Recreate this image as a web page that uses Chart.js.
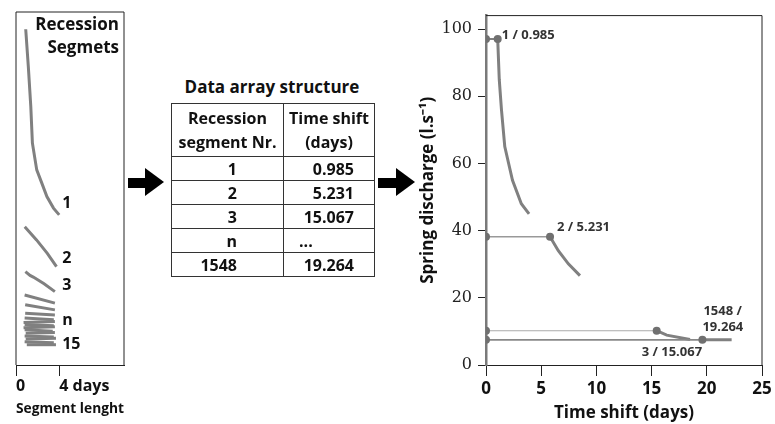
<!DOCTYPE html>
<html>
<head>
<meta charset="utf-8">
<script src="https://cdn.jsdelivr.net/npm/chart.js@4.4.0/dist/chart.umd.min.js"></script>
<style>
  body { margin: 0; background: #fff; font-family: 'Open Sans', sans-serif; color: #111; }
  #page { position: relative; width: 775px; height: 424px; overflow: hidden; }
  #leftWrap { position: absolute; left: 0; top: 0; width: 140px; height: 424px; }
  #rightWrap { position: absolute; left: 400px; top: 0; width: 375px; height: 424px; }
  #segTitle { position: absolute; right: 656px; top: 12px; text-align: right; font-weight: 700; font-size: 17px; line-height: 23px; }
  #tblTitle { position: absolute; left: 160px; width: 224px; top: 75px; text-align: center; font-weight: 700; font-size: 17px; }
  #arr { position: absolute; left: 171px; top: 103px; border-collapse: collapse; border: 1.5px solid #333; font-size: 16px; font-weight: 700; }
  #arr td, #arr th { border: 1px solid #333; padding: 0; height: 24px; line-height: 20px; }
  #arr th { height: 52px; line-height: 24px; font-weight: 700; text-align: center; }
  #arr td.c1 { width: 111px; text-align: right; padding-right: 46px; box-sizing: border-box; }
  #arr td.c2 { width: 90px; text-align: right; padding-right: 20px; box-sizing: border-box; }
  .shaft { position: absolute; background: #000; width: 18px; height: 10px; top: 178px; }
  .head { position: absolute; width: 0; height: 0; top: 168px; border-top: 14px solid transparent; border-bottom: 14px solid transparent; border-left: 19px solid #000; }
</style>
</head>
<body>
<div id="page">
  <div id="leftWrap"><canvas id="segChart"></canvas></div>
  <div id="segTitle">Recession<br>Segmets</div>

  <div class="shaft" style="left:128px"></div><div class="head" style="left:145px"></div>
  <div id="tblTitle">Data array structure</div>
  <table id="arr"></table>
  <div class="shaft" style="left:378px"></div><div class="head" style="left:396px"></div>

  <div id="rightWrap"><canvas id="shiftChart"></canvas></div>
</div>
<script>
// left panel: recession segments by length (days)
const seg1LenX = [0.9, 1.14, 1.37, 1.52, 1.92, 2.39, 2.86, 3.47, 4.0];
const seg1LenY = [99.3, 88.3, 76.4, 65.6, 57.7, 53.8, 49.8, 46.4, 44.4];
const seg2LenX = [0.81, 1.9, 2.9, 3.75];
const seg2LenY = [40.9, 37.0, 33.0, 29.1];
const seg3LenX = [0.87, 1.3, 1.6, 2.6, 3.6];
const seg3LenY = [27.6, 26.5, 26.0, 24.0, 21.7];
// remaining short segments: start x, start y, end x, end y
const restStartX = [0.8, 0.85, 0.85, 0.8, 0.7, 0.8, 0.7, 0.8, 0.9, 0.8, 0.9, 0.8, 1.0];
const restStartY = [20.7, 17.8, 15.3, 13.9, 12.6, 12.0, 11.0, 10.4, 9.4, 8.6, 7.7, 6.9, 6.0];
const restEndX = [3.6, 3.6, 3.6, 3.5, 3.6, 3.5, 3.6, 3.4, 3.6, 3.5, 3.7, 3.5, 3.7];
const restEndY = [18.3, 16.3, 14.8, 13.4, 12.9, 11.6, 11.3, 10.0, 9.6, 8.3, 7.9, 6.6, 6.0];
const segNames = ['1', '2', '3', 'n', '15'];
const segNameLevel = [47.9, 31.4, 23.4, 13.3, 6.2];
const lenTicks = [0, 4];
const lenTickLabels = ['0', '4 days'];

// table
const segNr = ['1', '2', '3', 'n', '1548'];
const shiftDays = ['0.985', '5.231', '15.067', '...', '19.264'];

// right panel: segments placed by time shift
const seg1LinkX = [0, 1.06];
const seg1LinkY = [97, 97];
const seg1X = [1.06, 1.2, 1.4, 1.7, 2.4, 3.2, 3.9];
const seg1Y = [97, 85, 76, 65, 55, 48, 45];
const seg2LinkX = [0, 5.8];
const seg2LinkY = [38.2, 38.2];
const seg2X = [5.8, 6.55, 7.46, 8.51];
const seg2Y = [38.2, 34, 30.1, 26.6];
const seg3LinkX = [0, 15.46];
const seg3LinkY = [10.2, 10.2];
const seg3X = [15.46, 16.37, 18.48];
const seg3Y = [10.2, 8.9, 7.6];
const segLastLinkX = [0, 19.6];
const segLastLinkY = [7.5, 7.5];
const segLastX = [19.6, 22.25];
const segLastY = [7.5, 7.5];
const shiftLabels = ['1 / 0.985', '2 / 5.231', '3 / 15.067', '1548 /', '19.264'];

// build table
const tbl = document.getElementById('arr');
tbl.innerHTML = '<tr><th style="width:111px">Recession<br>segment Nr.</th><th style="width:90px">Time shift<br>(days)</th></tr>' +
  segNr.map((n, i) => '<tr><td class="c1">' + n + '</td><td class="c2"' +
    (shiftDays[i] === '...' ? ' style="text-align:left;padding-left:15px"' : '') + '>' + shiftDays[i] + '</td></tr>').join('');

const toPts = (xs, ys) => xs.map((x, i) => ({ x: x, y: ys[i] }));
const grey = '#808080';

const boxPlugin = {
  id: 'box',
  afterDraw(chart, args, opts) {
    const a = chart.chartArea, ctx = chart.ctx;
    ctx.save();
    ctx.strokeStyle = '#222';
    ctx.lineWidth = 1;
    ctx.beginPath();
    if (opts.full) {
      ctx.moveTo(a.left, a.bottom); ctx.lineTo(a.left, a.top);
    } else {
      ctx.moveTo(a.left, a.top);
    }
    ctx.lineTo(a.right, a.top);
    ctx.lineTo(a.right, a.bottom);
    ctx.stroke();
    ctx.restore();
  }
};

const textPlugin = {
  id: 'notes',
  afterDraw(chart, args, opts) {
    const ctx = chart.ctx, xs = chart.scales.x, ys = chart.scales.y;
    ctx.save();
    ctx.font = opts.font;
    ctx.fillStyle = opts.color;
    ctx.textBaseline = 'middle';
    ctx.textAlign = 'left';
    opts.items.forEach(it => {
      ctx.fillText(it.text, xs.getPixelForValue(it.x) + it.dx, ys.getPixelForValue(it.y) + it.dy);
    });
    ctx.restore();
  }
};

// left chart
const restSets = restStartX.map((x0, i) => ({
  data: [{ x: x0, y: restStartY[i] }, { x: restEndX[i], y: restEndY[i] }],
  borderColor: grey, borderWidth: 3, pointRadius: 0, showLine: true
}));

new Chart(document.getElementById('segChart'), {
  type: 'scatter',
  data: {
    datasets: [
      { data: toPts(seg1LenX, seg1LenY), borderColor: grey, borderWidth: 3, pointRadius: 0, showLine: true },
      { data: toPts(seg2LenX, seg2LenY), borderColor: grey, borderWidth: 3, pointRadius: 0, showLine: true },
      { data: toPts(seg3LenX, seg3LenY), borderColor: grey, borderWidth: 3, pointRadius: 0, showLine: true },
      ...restSets
    ]
  },
  options: {
    responsive: true,
    maintainAspectRatio: false,
    animation: false,
    layout: { padding: { left: 16, right: 16, top: 12, bottom: 0 } },
    plugins: {
      legend: { display: false },
      tooltip: { enabled: false },
      box: { full: true },
      notes: {
        font: 'bold 16px "Open Sans"',
        color: '#111',
        items: segNames.map((t, i) => ({ text: t, x: 4.28, y: segNameLevel[i], dx: 0, dy: 0 }))
      }
    },
    scales: {
      x: {
        type: 'linear',
        min: 0,
        max: 10,
        afterBuildTicks: s => { s.ticks = lenTicks.map(v => ({ value: v })); },
        afterFit: s => { s.height = 59; },
        grid: { drawOnChartArea: false, tickLength: 11, color: '#222' },
        border: { color: '#222', width: 1 },
        ticks: {
          align: 'start',
          padding: 1,
          color: '#111',
          font: { family: 'Open Sans', size: 16, weight: 'bold' },
          callback: (v, i) => lenTickLabels[i]
        },
        title: {
          display: true,
          text: 'Segment lenght',
          color: '#111',
          font: { family: 'Open Sans', size: 15, weight: 'bold' },
          padding: { top: 0, bottom: 6 }
        }
      },
      y: { display: false, min: 0, max: 104.4 }
    }
  },
  plugins: [boxPlugin, textPlugin]
});

// right chart
const linkStyle = (w, c) => ({ borderColor: c, borderWidth: w, pointRadius: 4, pointBackgroundColor: '#707070', pointBorderWidth: 0, showLine: true });
const curveStyle = { borderColor: grey, borderWidth: 3, pointRadius: 0, showLine: true };

new Chart(document.getElementById('shiftChart'), {
  type: 'scatter',
  data: {
    datasets: [
      { data: toPts(seg1LinkX, seg1LinkY), ...linkStyle(2, '#808080') },
      { data: toPts(seg2LinkX, seg2LinkY), ...linkStyle(1.5, '#999') },
      { data: toPts(seg3LinkX, seg3LinkY), ...linkStyle(1.2, '#aaa') },
      { data: toPts(segLastLinkX, segLastLinkY), ...linkStyle(1.8, '#888') },
      { data: toPts(seg1X, seg1Y), ...curveStyle },
      { data: toPts(seg2X, seg2Y), ...curveStyle },
      { data: toPts(seg3X, seg3Y), ...curveStyle },
      { data: toPts(segLastX, segLastY), ...curveStyle }
    ]
  },
  options: {
    responsive: true,
    maintainAspectRatio: false,
    animation: false,
    layout: { padding: { left: 0, right: 13, top: 13, bottom: 0 } },
    plugins: {
      legend: { display: false },
      tooltip: { enabled: false },
      box: { full: false },
      notes: {
        font: 'bold 13px "Open Sans"',
        color: '#333',
        items: [
          { text: shiftLabels[0], x: seg1LinkX[1], y: seg1LinkY[1], dx: 4, dy: -4 },
          { text: shiftLabels[1], x: seg2LinkX[1], y: seg2LinkY[1], dx: 7, dy: -9 },
          { text: shiftLabels[2], x: seg3LinkX[1], y: seg3LinkY[1], dx: -15, dy: 22 },
          { text: shiftLabels[3], x: segLastLinkX[1], y: segLastLinkY[1], dx: 1, dy: -29 },
          { text: shiftLabels[4], x: segLastLinkX[1], y: segLastLinkY[1], dx: 0, dy: -13 }
        ]
      }
    },
    scales: {
      x: {
        type: 'linear',
        min: 0,
        max: 25,
        afterFit: s => { s.height = 59; },
        grid: { drawOnChartArea: false, tickLength: 11, color: '#222' },
        border: { color: '#222', width: 1 },
        ticks: {
          stepSize: 5,
          padding: 3,
          color: '#111',
          font: { family: 'Open Sans', size: 17, weight: 'bold' }
        },
        title: {
          display: true,
          text: 'Time shift (days)',
          color: '#111',
          font: { family: 'Open Sans', size: 17, weight: 'bold' },
          padding: { top: 0, bottom: 1 }
        }
      },
      y: {
        min: 0,
        max: 104,
        afterFit: s => { s.width = 86; },
        grid: { drawOnChartArea: false, tickLength: 8, color: '#222' },
        border: { color: '#7a7a7a', width: 2.5 },
        ticks: {
          stepSize: 20,
          includeBounds: false,
          padding: 6,
          color: '#222',
          font: { family: 'DejaVu Serif', size: 16 }
        },
        title: {
          display: true,
          text: 'Spring discharge (l.s\u207B\u00B9)',
          color: '#111',
          font: { family: 'Open Sans', size: 17, weight: 'bold' },
          padding: { top: 18, bottom: 0 }
        }
      }
    }
  },
  plugins: [boxPlugin, textPlugin]
});
</script>
</body>
</html>
